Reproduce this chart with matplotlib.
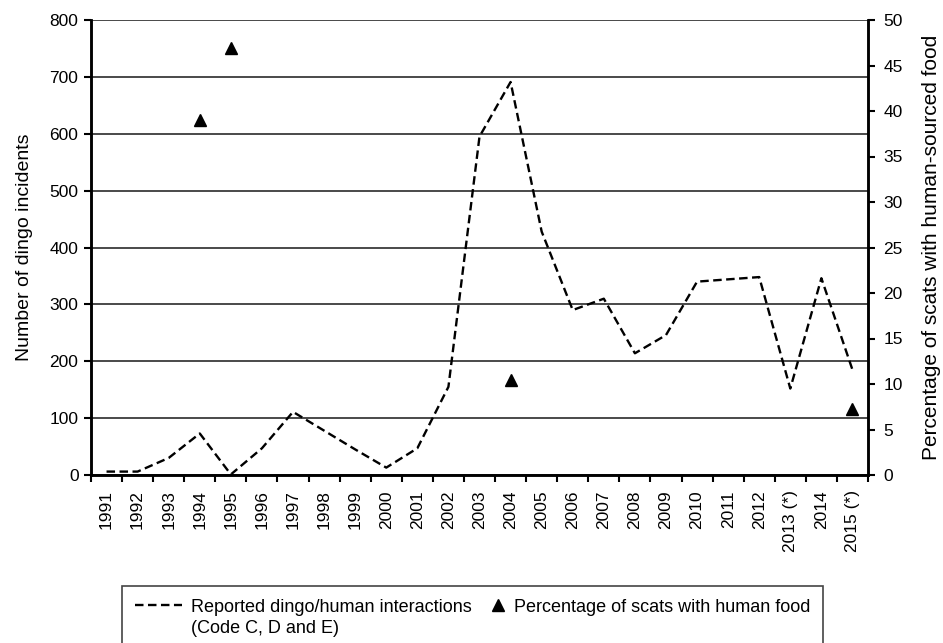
import matplotlib
matplotlib.use('Agg')
import matplotlib.pyplot as plt
from matplotlib.lines import Line2D
from matplotlib.legend_handler import HandlerLine2D

plt.rcParams['font.family'] = ['Liberation Sans', 'DejaVu Sans']

years = ['1991', '1992', '1993', '1994', '1995', '1996', '1997', '1998', '1999',
         '2000', '2001', '2002', '2003', '2004', '2005', '2006', '2007', '2008',
         '2009', '2010', '2011', '2012', '2013 (*)', '2014', '2015 (*)']
incidents = [6, 6, 30, 73, 1, 47, 111, 78, 45, 13, 47, 155, 595, 691, 428, 290,
             310, 214, 246, 340, 344, 348, 152, 346, 185]
scat_years = ['1994', '1995', '2004', '2015 (*)']
scat_pct = [39.0, 46.9, 10.4, 7.3]


class RightMarkerHandler(HandlerLine2D):
    """Put the single legend marker near the text instead of in the middle."""
    def get_xdata(self, legend, xdescent, ydescent, width, height, fontsize):
        x1 = -xdescent + width
        xs = [x1 - 0.8 * fontsize, x1]
        return xs, xs


fig = plt.figure(figsize=(9.43, 6.43), dpi=100)
ax = fig.add_axes([91 / 943, 1 - 475 / 643, (868 - 91) / 943, (475 - 20) / 643])
ax2 = ax.twinx()

x = list(range(len(years)))
scat_x = [years.index(y) for y in scat_years]

ax.plot(x, incidents, color='black', linewidth=1.7, linestyle=(0, (3.6, 1.9)))
ax2.plot(scat_x, scat_pct, linestyle='none', marker='^', color='black',
         markersize=8)

ax.set_xlim(-0.5, len(years) - 0.5)
ax.set_ylim(0, 800)
ax.set_yticks(range(0, 801, 100))
ax2.set_ylim(0, 50)
ax2.set_yticks(range(0, 51, 5))

# ticks at category boundaries, labels at centres
ax.set_xticks([i - 0.5 for i in range(len(years) + 1)])
ax.set_xticklabels([])
ax.set_xticks(x, minor=True)
ax.set_xticklabels(years, minor=True, rotation=90, fontsize=12.5)
ax.tick_params(axis='x', which='minor', length=0, pad=11)
ax.tick_params(axis='x', which='major', length=5, width=1.5, direction='out')
ax.tick_params(axis='y', length=5, width=1.5, labelsize=12.5, pad=4)
ax2.tick_params(axis='y', length=5, width=1.5, labelsize=12.5, pad=6)

ax.yaxis.grid(True, color='#3a3a3a', linewidth=1.3)
ax.set_axisbelow(True)

for a in (ax, ax2):
    a.spines['top'].set_visible(False)
    for s in ('left', 'right', 'bottom'):
        a.spines[s].set_linewidth(1.8)

ax.set_ylabel('Number of dingo incidents', fontsize=14, labelpad=12)
ax2.set_ylabel('Percentage of scats with human-sourced food', fontsize=15,
               labelpad=14)

h_line = Line2D([], [], color='black', linewidth=1.7, linestyle=(0, (3.6, 1.9)))
h_tri = Line2D([], [], color='black', linestyle='none', marker='^', markersize=8)
h_blank = Line2D([], [], linestyle='none')
h_blank2 = Line2D([], [], linestyle='none')
leg = fig.legend([h_line, h_blank, h_tri, h_blank2],
                 ['Reported dingo/human interactions', '(Code C, D and E)',
                  'Percentage of scats with human food', ''],
                 ncol=2, loc='upper left',
                 bbox_to_anchor=(122 / 943, 1 - 586 / 643), borderaxespad=0,
                 fontsize=13, frameon=True, fancybox=False, framealpha=1,
                 edgecolor='#444444', handlelength=2.6, handletextpad=0.5,
                 columnspacing=-0.75, labelspacing=0.25, borderpad=0.7,
                 handler_map={h_tri: RightMarkerHandler(numpoints=1)})
leg.get_frame().set_linewidth(1.2)

fig.savefig('out.png', dpi=100)
